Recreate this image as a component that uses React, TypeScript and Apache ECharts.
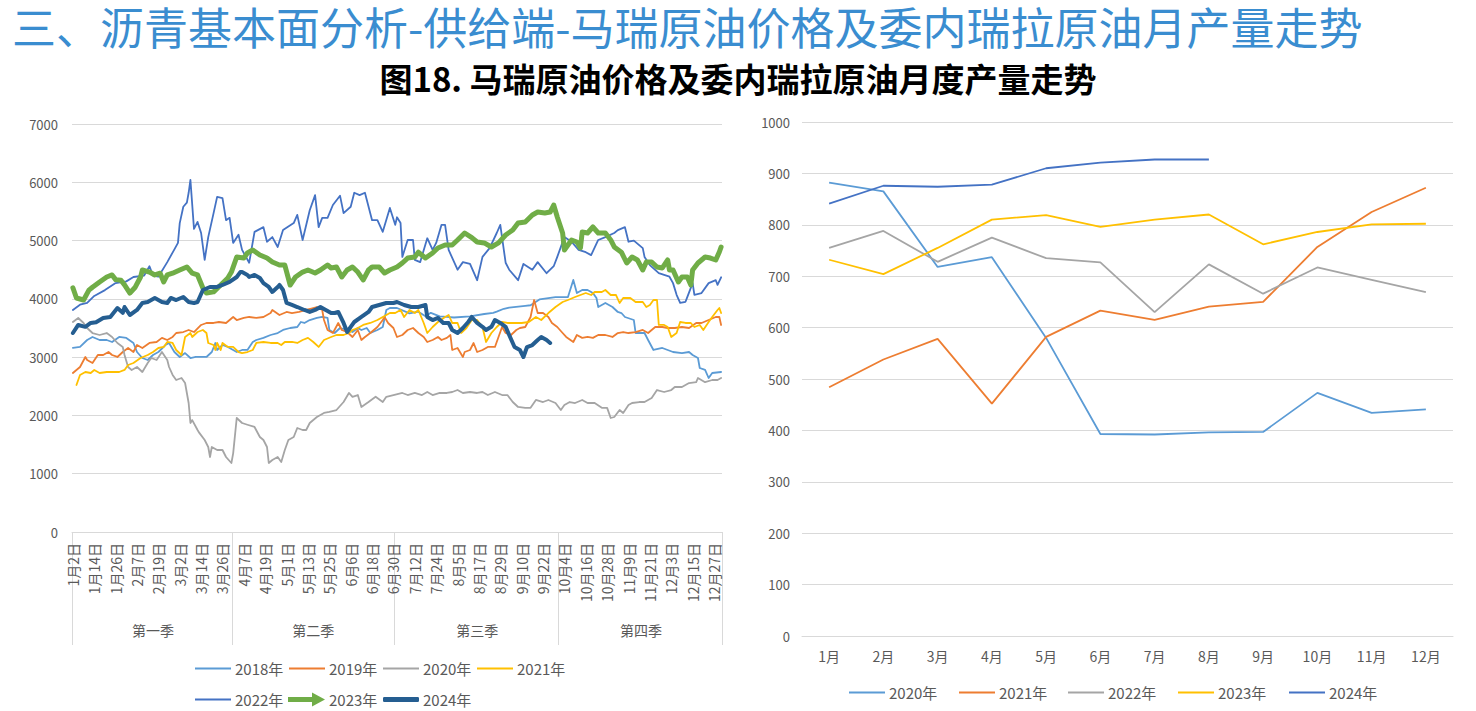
import React, { useEffect, useRef } from 'react';
import * as echarts from 'echarts';

const FONT = '"Noto Sans CJK SC", "Noto Sans", sans-serif';
const TXT = '#595959';
const GRID = '#D9D9D9';

// ---------- left chart: daily categories (leap-year calendar, Jan 2 .. Dec 31)
const MONTH_DAYS = [31, 29, 31, 30, 31, 30, 31, 31, 30, 31, 30, 31];
const dayCategories: string[] = [];
for (let m = 0; m < 12; m++) {
  for (let d = 1; d <= MONTH_DAYS[m]; d++) {
    if (m === 0 && d === 1) continue;
    dayCategories.push(`${m + 1}月${d}日`);
  }
}
const quarterNames = ['第一季', '第二季', '第三季', '第四季'];
const quarterStarts = [0, 90, 181, 273];
const quarterLabelIdx = [45, 135, 227, 319];
const leftYTicks = { min: 0, max: 7000, interval: 1000 };

const leftNames = ['2018年', '2019年', '2020年', '2021年', '2022年', '2023年', '2024年'];
const leftColors = ['#5B9BD5', '#ED7D31', '#A5A5A5', '#FFC000', '#4472C4', '#70AD47', '#255E91'];

const s2018 = [[0,3160],[4,3175],[8,3294],[11,3346],[15,3294],[19,3294],[22,3260],[26,3346],[30,3330],[34,3243],[36,3088],[39,2985],[42,2951],[45,3037],[48,3088],[52,3208],[54,3243],[57,3088],[60,3003],[63,3070],[66,2985],[69,3003],[71,3003],[75,3003],[78,3088],[80,3243],[81,3123],[84,3208],[87,3175],[90,3123],[92,3088],[95,3123],[98,3123],[101,3260],[103,3294],[107,3330],[111,3380],[115,3414],[118,3466],[122,3500],[126,3517],[128,3603],[130,3586],[133,3637],[137,3672],[140,3689],[143,3672],[144,3466],[147,3414],[150,3500],[154,3466],[157,3431],[160,3500],[162,3466],[165,3500],[167,3414],[171,3466],[174,3517],[176,3809],[178,3843],[182,3843],[189,3750],[194,3780],[198,3700],[201,3760],[206,3700],[210,3690],[214,3680],[223,3700],[231,3740],[236,3760],[238,3780],[242,3830],[245,3850],[254,3880],[257,3890],[262,3990],[271,4030],[278,4032],[281,4324],[283,4100],[286,4152],[289,4152],[292,4100],[294,4015],[295,3860],[299,3929],[303,3860],[306,3775],[308,3757],[310,3689],[315,3637],[316,3414],[321,3414],[323,3294],[326,3123],[331,3157],[337,3088],[342,3070],[346,3088],[348,3037],[351,2985],[352,2814],[355,2780],[357,2642],[359,2728],[364,2745]];

const s2019 = [[0,2728],[4,2831],[7,3003],[8,2950],[11,2900],[14,3037],[17,3037],[20,3088],[22,3037],[25,3003],[28,3088],[31,3157],[34,3088],[36,3208],[39,3157],[43,3243],[47,3260],[50,3330],[53,3294],[56,3346],[58,3414],[62,3431],[65,3466],[68,3431],[72,3552],[75,3586],[79,3586],[82,3603],[86,3586],[90,3689],[92,3637],[96,3672],[99,3689],[103,3672],[107,3689],[111,3757],[112,3809],[116,3723],[120,3775],[123,3757],[127,3775],[131,3809],[135,3843],[137,3860],[140,3809],[141,3637],[143,3466],[146,3414],[149,3586],[151,3466],[154,3431],[157,3346],[160,3466],[162,3294],[164,3346],[167,3414],[171,3517],[174,3637],[175,3689],[177,3586],[180,3500],[182,3346],[185,3380],[188,3466],[191,3500],[194,3414],[197,3346],[199,3260],[202,3294],[205,3346],[207,3294],[210,3330],[212,3380],[213,3123],[216,3157],[219,3003],[220,3088],[223,3123],[225,3243],[227,3088],[230,3123],[233,3175],[237,3175],[241,3517],[243,3414],[246,3380],[249,3466],[251,3500],[254,3517],[257,3689],[259,3980],[261,3757],[264,3757],[267,3689],[269,3586],[272,3517],[275,3414],[277,3346],[281,3260],[283,3380],[286,3330],[289,3346],[292,3330],[295,3380],[299,3380],[303,3346],[306,3414],[309,3431],[312,3414],[316,3431],[320,3466],[323,3414],[327,3517],[331,3517],[334,3500],[338,3500],[342,3517],[346,3500],[350,3586],[353,3586],[357,3637],[361,3689],[363,3689],[364,3552]];

const s2020 = [[0,3603],[3,3672],[6,3586],[8,3500],[11,3414],[15,3380],[19,3414],[22,3346],[25,3243],[28,3175],[29,3037],[31,2831],[33,2780],[36,2831],[39,2745],[42,2900],[44,2985],[47,2951],[50,3088],[53,2951],[54,2831],[56,2694],[58,2608],[61,2642],[63,2556],[65,2213],[66,1870],[67,1920],[70,1750],[71,1700],[74,1578],[76,1458],[77,1287],[78,1458],[81,1407],[84,1407],[86,1287],[89,1184],[90,1350],[92,1956],[95,1870],[98,1840],[102,1802],[105,1630],[107,1578],[109,1458],[110,1184],[112,1235],[115,1287],[117,1201],[119,1407],[121,1578],[124,1630],[126,1784],[129,1750],[131,1750],[133,1870],[137,1973],[141,2042],[144,2060],[148,2093],[152,2230],[155,2385],[157,2320],[160,2350],[162,2145],[166,2230],[170,2320],[174,2230],[176,2320],[180,2350],[185,2385],[188,2350],[192,2385],[196,2350],[199,2402],[202,2350],[206,2385],[210,2385],[213,2402],[216,2436],[219,2385],[223,2402],[227,2385],[230,2402],[233,2350],[237,2402],[241,2350],[244,2350],[247,2230],[250,2145],[254,2130],[257,2130],[260,2265],[264,2230],[267,2265],[271,2213],[274,2093],[276,2179],[279,2230],[282,2213],[286,2265],[289,2213],[293,2213],[297,2130],[300,2130],[302,1956],[304,1973],[307,2093],[309,2042],[312,2179],[314,2213],[318,2230],[321,2230],[325,2300],[328,2436],[332,2402],[336,2436],[338,2488],[342,2488],[346,2556],[350,2570],[351,2642],[355,2570],[359,2608],[362,2608],[364,2642]];

const s2021 = [[2,2522],[4,2694],[7,2745],[10,2728],[12,2780],[15,2728],[19,2745],[22,2745],[26,2745],[29,2780],[31,2865],[34,2900],[38,2985],[42,3037],[45,3088],[48,3157],[51,3175],[53,3260],[56,3243],[58,3123],[61,3037],[63,3346],[66,3414],[67,3346],[70,3431],[73,3466],[75,3414],[76,3243],[79,3208],[80,3123],[81,3243],[83,3123],[84,3243],[87,3175],[90,3175],[93,3088],[95,3070],[98,3088],[101,3123],[103,3243],[107,3260],[111,3243],[115,3243],[117,3208],[119,3260],[123,3260],[126,3243],[129,3294],[132,3330],[135,3260],[138,3175],[141,3294],[145,3346],[148,3380],[152,3380],[155,3414],[157,3466],[160,3500],[163,3552],[167,3586],[171,3637],[174,3689],[178,3757],[181,3757],[184,3809],[186,3689],[189,3809],[192,3757],[194,3809],[197,3586],[199,3414],[202,3517],[205,3603],[209,3689],[211,3723],[213,3586],[216,3586],[218,3414],[221,3500],[224,3637],[227,3637],[230,3517],[232,3260],[235,3414],[238,3517],[241,3603],[244,3586],[248,3586],[252,3586],[256,3603],[260,3689],[263,3637],[267,3757],[271,3860],[275,3946],[278,3980],[282,4032],[285,4066],[288,4100],[291,4066],[293,4118],[297,4118],[299,4152],[302,4066],[305,4066],[307,3929],[309,4015],[313,4015],[316,3946],[320,3946],[322,3860],[324,3895],[326,3980],[328,3980],[329,3552],[332,3552],[334,3517],[336,3346],[339,3414],[341,3603],[344,3586],[347,3586],[349,3517],[352,3552],[354,3466],[357,3603],[359,3689],[362,3809],[363,3843],[364,3757]];

const s2022 = [[0,3810],[4,3900],[8,3930],[12,4050],[18,4150],[24,4270],[30,4300],[34,4375],[40,4400],[43,4560],[45,4400],[48,4380],[53,4630],[57,4850],[59,4960],[60,5300],[62,5580],[64,5650],[65,5820],[66,6040],[68,5200],[70,5320],[72,5130],[74,4670],[76,5060],[79,5470],[81,5750],[84,5730],[86,5350],[88,5390],[90,4960],[93,5100],[95,4840],[99,4620],[102,5150],[107,5230],[109,4980],[112,5060],[115,4890],[118,5180],[124,5300],[126,5440],[129,5010],[133,5520],[136,5780],[138,5230],[140,5390],[143,5390],[146,5610],[150,5770],[152,5470],[156,5580],[158,5820],[161,5780],[164,5820],[168,5350],[171,5350],[174,5150],[178,5560],[181,5270],[182,5400],[184,5300],[185,4720],[188,5010],[191,5010],[192,4670],[195,4630],[199,5040],[202,4840],[204,4960],[207,5270],[209,5270],[211,4840],[216,4500],[219,4630],[223,4600],[227,4320],[230,4720],[234,4870],[238,5130],[240,5270],[243,4620],[245,4500],[250,4320],[253,4600],[258,4500],[261,4630],[266,4440],[270,4560],[272,4720],[276,5060],[280,4980],[284,4840],[288,4800],[291,4750],[295,5010],[299,5060],[304,5130],[306,5180],[310,5230],[312,4980],[315,5000],[320,4870],[321,4720],[324,4580],[329,4440],[332,4410],[335,4380],[337,4270],[339,4070],[341,3930],[344,3950],[345,4030],[348,4270],[349,4070],[353,4100],[357,4270],[361,4320],[362,4240],[364,4370]];

const s2023 = [[0,4190],[2,4015],[6,3980],[9,4150],[11,4200],[15,4290],[19,4375],[22,4410],[24,4330],[27,4320],[29,4240],[32,4100],[35,4200],[38,4375],[39,4495],[43,4460],[46,4410],[49,4440],[51,4290],[53,4410],[56,4440],[60,4495],[64,4547],[67,4440],[70,4410],[73,4186],[75,4100],[79,4120],[83,4238],[87,4358],[89,4460],[92,4718],[96,4700],[98,4787],[101,4838],[105,4752],[109,4700],[112,4632],[116,4580],[119,4580],[122,4238],[125,4375],[129,4460],[132,4495],[136,4444],[139,4495],[143,4580],[145,4530],[148,4547],[151,4375],[154,4495],[157,4547],[160,4460],[163,4324],[166,4495],[168,4547],[172,4547],[175,4444],[178,4495],[182,4547],[185,4615],[188,4700],[192,4718],[194,4800],[198,4700],[202,4787],[205,4873],[209,4924],[213,4924],[216,5010],[220,5130],[224,5050],[227,4975],[231,4960],[235,4890],[239,4960],[243,5096],[247,5181],[250,5300],[254,5320],[258,5439],[261,5490],[265,5473],[268,5490],[270,5610],[272,5404],[275,5130],[276,4838],[280,5010],[283,4975],[285,4873],[286,5147],[289,5130],[292,5233],[295,5130],[299,5130],[302,5010],[304,4890],[308,4800],[311,4615],[314,4718],[317,4667],[320,4495],[322,4632],[325,4632],[328,4547],[331,4530],[334,4667],[335,4495],[337,4495],[340,4290],[342,4375],[345,4375],[347,4238],[348,4495],[351,4615],[355,4718],[358,4700],[361,4667],[363,4804],[364,4890]];

const s2024 = [[0,3414],[3,3552],[7,3520],[10,3586],[13,3600],[17,3672],[21,3690],[25,3843],[28,3760],[29,3860],[32,3723],[36,3810],[39,3929],[42,3946],[46,4015],[50,3946],[53,3929],[55,4015],[58,3980],[62,4032],[65,3946],[68,3929],[70,3946],[73,4152],[77,4204],[81,4204],[84,4238],[88,4290],[92,4375],[94,4460],[95,4460],[98,4410],[99,4375],[102,4410],[105,4358],[107,4270],[110,4204],[112,4118],[115,4204],[116,4238],[118,4152],[120,3929],[123,3895],[126,3860],[130,3809],[133,3775],[136,3809],[139,3860],[142,3809],[145,3757],[147,3757],[149,3775],[152,3586],[154,3431],[156,3520],[158,3603],[162,3689],[166,3775],[168,3860],[172,3895],[176,3929],[180,3929],[182,3946],[186,3895],[190,3860],[194,3860],[198,3895],[199,3689],[202,3637],[205,3672],[208,3586],[211,3586],[213,3466],[216,3414],[219,3500],[222,3603],[224,3689],[227,3586],[230,3520],[232,3466],[235,3520],[237,3637],[240,3586],[243,3520],[245,3380],[248,3174],[251,3123],[253,3003],[255,3174],[258,3208],[261,3294],[263,3346],[266,3294],[268,3243]];

const leftData = [s2018, s2019, s2020, s2021, s2022, s2023, s2024];
const leftWidths = [1.8, 1.8, 1.8, 1.8, 1.8, 5, 4];

// ---------- right chart: monthly output
const months = ['1月', '2月', '3月', '4月', '5月', '6月', '7月', '8月', '9月', '10月', '11月', '12月'];
const rightYTicks = { min: 0, max: 1000, interval: 100 };
const rightNames = ['2020年', '2021年', '2022年', '2023年', '2024年'];
const rightColors = ['#5B9BD5', '#ED7D31', '#A5A5A5', '#FFC000', '#4472C4'];
const m2020 = [882, 865, 718, 737, 580, 393, 392, 396, 397, 473, 434, 441];
const m2021 = [484, 538, 578, 452, 582, 633, 615, 641, 650, 757, 825, 872];
const m2022 = [755, 788, 728, 775, 735, 727, 630, 723, 666, 717, 693, 669];
const m2023 = [732, 704, 755, 810, 819, 796, 810, 820, 762, 786, 801, 802];
const m2024 = [841, 876, 874, 878, 910, 921, 927, 927];
const rightData = [m2020, m2021, m2022, m2023, m2024];

const ARROW = 'path://M0,4.5 L24,4.5 L24,0 L37,7 L24,14 L24,9.5 L0,9.5 Z';

function legendItem(name: string, color: string, left: number, top: number, kind: string) {
  let icon = 'rect';
  let itemWidth = 36;
  let itemHeight = 2;
  if (kind === 'arrow') { icon = ARROW; itemWidth = 37; itemHeight = 14; }
  if (kind === 'thick') { icon = 'roundRect'; itemHeight = 5; }
  return {
    show: true,
    data: [{ name, itemStyle: { color, borderWidth: 0 } }],
    left, top,
    icon, itemWidth, itemHeight,
    padding: 0,
    itemGap: 0,
    selectedMode: false,
    itemStyle: { borderWidth: 0 },
    textStyle: { fontSize: 15, color: TXT, fontFamily: FONT, padding: [0, 0, 0, -1] },
  };
}

const plain = (v: number) => String(v);

export default function App() {
  const ref = useRef<HTMLDivElement>(null);
  useEffect(() => {
    if (!ref.current) return;
    const chart = echarts.init(ref.current, undefined, { renderer: 'svg' });

    const leftSeries = leftNames.map((n, i) => ({
      type: 'line', name: n, xAxisIndex: 0, yAxisIndex: 0,
      data: leftData[i], symbol: 'none', showSymbol: false,
      lineStyle: { color: leftColors[i], width: leftWidths[i], join: 'round', cap: 'round' },
      itemStyle: { color: leftColors[i] },
      emphasis: { disabled: true }, z: 2 + i,
    }));
    const rightSeries = rightNames.map((n, i) => ({
      type: 'line', name: n, xAxisIndex: 2, yAxisIndex: 1,
      data: rightData[i], symbol: 'none', showSymbol: false,
      lineStyle: { color: rightColors[i], width: 1.8 },
      itemStyle: { color: rightColors[i] },
      emphasis: { disabled: true }, z: 2 + i,
    }));

    const row1 = [195, 289, 383, 477];
    const legends: any[] = [];
    for (let i = 0; i < 4; i++) legends.push(legendItem(leftNames[i], leftColors[i], row1[i], 661, 'line'));
    legends.push(legendItem(leftNames[4], leftColors[4], 195, 692, 'line'));
    legends.push(legendItem(leftNames[5], leftColors[5], 288, 692, 'arrow'));
    legends.push(legendItem(leftNames[6], leftColors[6], 383, 692, 'thick'));
    const rlefts = [849, 959, 1068, 1178, 1289];
    for (let i = 0; i < 5; i++) legends.push(legendItem(rightNames[i], rightColors[i], rlefts[i], 685, 'line'));

    chart.setOption({
      animation: false,
      backgroundColor: '#fff',
      textStyle: { fontFamily: FONT },
      title: [
        {
          text: '三、沥青基本面分析-供给端-马瑞原油价格及委内瑞拉原油月产量走势',
          left: 12, top: 4, padding: 0,
          textStyle: { fontSize: 44, lineHeight: 44, fontWeight: 'normal', color: '#3A8DD0', fontFamily: FONT },
        },
        {
          text: '图18. 马瑞原油价格及委内瑞拉原油月度产量走势',
          left: 'center', top: 61, padding: 0,
          textStyle: { fontSize: 33, lineHeight: 33, fontWeight: 'bold', color: '#000', fontFamily: FONT },
        },
      ],
      legend: legends,
      grid: [
        { left: 72, right: 754, top: 124, bottom: 179, containLabel: false },
        { left: 802, right: 23, top: 122, bottom: 75, containLabel: false },
      ],
      xAxis: [
        {
          type: 'category', gridIndex: 0, data: dayCategories, boundaryGap: true, position: 'bottom',
          axisLine: { show: true, lineStyle: { color: GRID } },
          axisTick: { show: false },
          axisLabel: { interval: 11, rotate: 90, fontSize: 14, color: TXT, margin: 11, fontFamily: FONT },
          splitLine: { show: false },
        },
        {
          type: 'category', gridIndex: 0, data: dayCategories, boundaryGap: true, position: 'bottom',
          axisLine: { show: false },
          axisTick: {
            show: true, length: 113, lineStyle: { color: GRID },
            interval: (idx: number) => quarterStarts.indexOf(idx) >= 0,
          },
          axisLabel: {
            interval: (idx: number) => quarterLabelIdx.indexOf(idx) >= 0,
            formatter: (_v: string, idx: number) => {
              const q = quarterLabelIdx.indexOf(idx);
              return q >= 0 ? quarterNames[q] : '';
            },
            fontSize: 14, color: TXT, margin: 91, fontFamily: FONT,
          },
          splitLine: { show: false },
        },
        {
          type: 'category', gridIndex: 1, data: months, boundaryGap: true,
          axisLine: { show: true, lineStyle: { color: GRID } },
          axisTick: { show: false },
          axisLabel: { fontSize: 14, color: TXT, margin: 13, fontFamily: FONT },
        },
      ],
      yAxis: [
        {
          type: 'value', gridIndex: 0, ...leftYTicks,
          axisLine: { show: false }, axisTick: { show: false },
          axisLabel: { fontSize: 13, color: TXT, margin: 14, fontFamily: FONT, formatter: plain },
          splitLine: { lineStyle: { color: GRID, width: 1 } },
        },
        {
          type: 'value', gridIndex: 1, ...rightYTicks,
          axisLine: { show: false }, axisTick: { show: false },
          axisLabel: { fontSize: 13, color: TXT, margin: 12, fontFamily: FONT, formatter: plain },
          splitLine: { lineStyle: { color: GRID, width: 1 } },
        },
      ],
      series: [...leftSeries, ...rightSeries],
    });
    return () => chart.dispose();
  }, []);
  return <div ref={ref} style={{ position: 'fixed', left: 0, top: 0, width: 1476, height: 711 }} />;
}
